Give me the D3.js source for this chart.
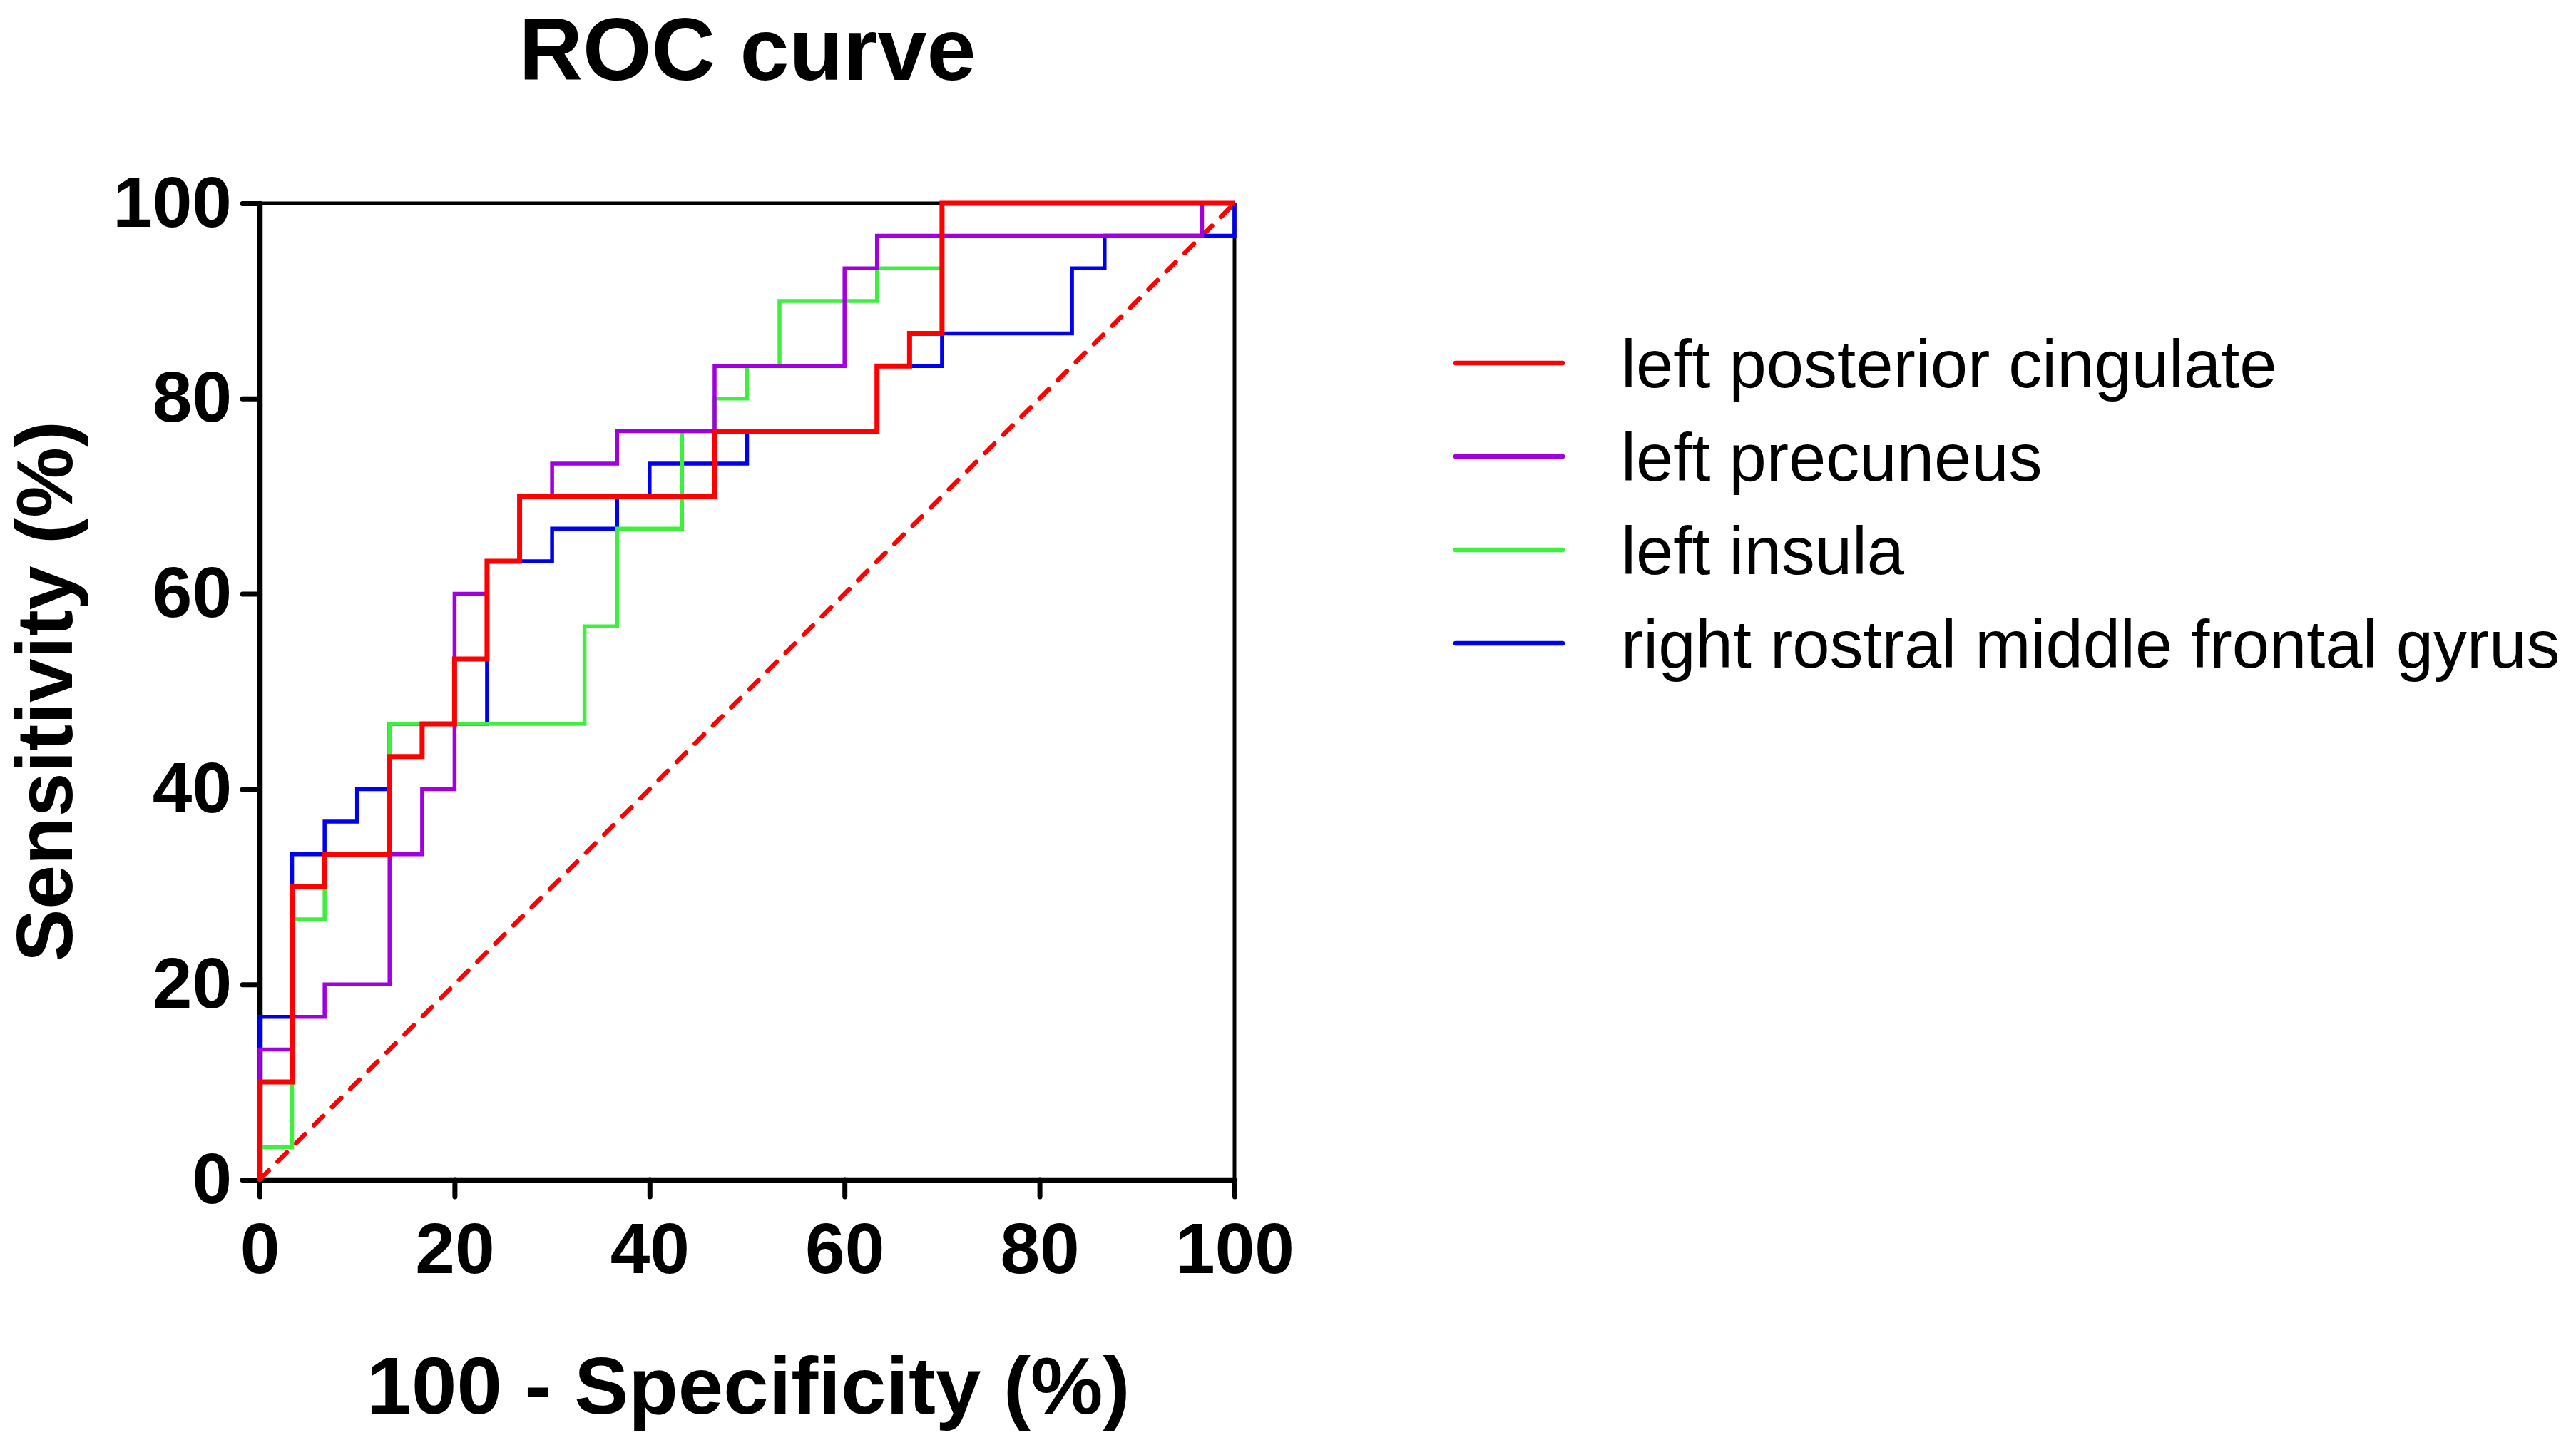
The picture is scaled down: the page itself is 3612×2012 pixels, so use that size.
<!DOCTYPE html>
<html>
<head>
<meta charset="utf-8">
<script src="https://cdn.jsdelivr.net/npm/d3@7"></script>
<style>
  body { margin: 0; background: #fff; }
  text { font-family: "Liberation Sans", Arial, sans-serif; fill: #000; }
</style>
</head>
<body>
<script>
const width = 3612;
const height = 2012;
const margin = { top: 285, right: 1881, bottom: 358, left: 364 };

const chartWidth = width - margin.left - margin.right;
const chartHeight = height - margin.top - margin.bottom;

// legend order
const seriesNames = [
  "left posterior cingulate",
  "left precuneus",
  "left insula",
  "right rostral middle frontal gyrus"
];

// ROC points: 100 - specificity (%) and sensitivity (%)
const cingulateX = [0, 0, 3.33, 6.67, 13.33, 16.67, 20, 23.33, 26.67, 46.67, 63.33, 66.67, 70, 100];
const cingulateY = [0, 10, 30, 33.33, 43.33, 46.67, 53.33, 63.33, 70, 76.67, 83.33, 86.67, 100, 100];

const precuneusX = [0, 0, 3.33, 6.67, 13.33, 16.67, 20, 23.33, 26.67, 30, 36.67, 46.67, 60, 63.33, 96.67, 100];
const precuneusY = [0, 13.33, 16.67, 20, 33.33, 40, 60, 63.33, 70, 73.33, 76.67, 83.33, 93.33, 96.67, 100, 100];

const insulaX = [0, 0, 3.33, 6.67, 13.33, 33.33, 36.67, 43.33, 46.67, 50, 53.33, 63.33, 70, 100];
const insulaY = [0, 3.33, 26.67, 33.33, 46.67, 56.67, 66.67, 76.67, 80, 83.33, 90, 93.33, 100, 100];

const frontalX = [0, 0, 3.33, 6.67, 10, 13.33, 23.33, 30, 36.67, 40, 50, 63.33, 70, 83.33, 86.67, 100];
const frontalY = [0, 16.67, 33.33, 36.67, 40, 46.67, 63.33, 66.67, 70, 73.33, 76.67, 83.33, 86.67, 93.33, 96.67, 100];

const tickValues = [0, 20, 40, 60, 80, 100];

const series = [
  { name: seriesNames[0], x: cingulateX, y: cingulateY },
  { name: seriesNames[1], x: precuneusX, y: precuneusY },
  { name: seriesNames[2], x: insulaX, y: insulaY },
  { name: seriesNames[3], x: frontalX, y: frontalY }
];

const color = d3.scaleOrdinal()
  .domain(seriesNames)
  .range(["#ff0000", "#a000e0", "#3ef03e", "#0000f0"]);

const svg = d3.select("body")
  .append("svg")
  .attr("width", width)
  .attr("height", height);

const g = svg.append("g")
  .attr("transform", `translate(${margin.left}, ${margin.top})`);

const x = d3.scaleLinear()
  .domain([0, 100])
  .range([0, chartWidth]);

const y = d3.scaleLinear()
  .domain([0, 100])
  .range([chartHeight, 0]);

// top and right frame
g.append("line")
  .attr("x1", x(0)).attr("x2", x(100))
  .attr("y1", y(100)).attr("y2", y(100))
  .attr("stroke", "#000").attr("stroke-width", 5);
g.append("line")
  .attr("x1", x(100)).attr("x2", x(100))
  .attr("y1", y(0)).attr("y2", y(100))
  .attr("stroke", "#000").attr("stroke-width", 5);

const xAxis = d3.axisBottom(x)
  .tickValues(tickValues)
  .tickSize(24)
  .tickSizeOuter(0)
  .tickPadding(36);

const yAxis = d3.axisLeft(y)
  .tickValues(tickValues)
  .tickSize(24)
  .tickSizeOuter(0)
  .tickPadding(15);

const gx = g.append("g")
  .attr("transform", `translate(0, ${chartHeight})`)
  .call(xAxis);

const gy = g.append("g")
  .call(yAxis);

[gx, gy].forEach(a => {
  a.select(".domain").attr("stroke", "#000").attr("stroke-width", 7.5).attr("stroke-linecap", "round");
  a.selectAll(".tick line").attr("stroke", "#000").attr("stroke-width", 7).attr("stroke-linecap", "round");
  a.selectAll(".tick text")
    .attr("font-size", 100)
    .attr("font-weight", "bold")
    .attr("font-family", "'Liberation Sans', Arial, sans-serif");
});

// chance line
g.append("line")
  .attr("x1", x(0)).attr("y1", y(0))
  .attr("x2", x(100)).attr("y2", y(100))
  .attr("stroke", "#ff0000")
  .attr("stroke-width", 6.5)
  .attr("stroke-dasharray", "18,18")
  .attr("stroke-linecap", "round");

const line = d3.line()
  .x(d => x(d[0]))
  .y(d => y(d[1]))
  .curve(d3.curveStepAfter);

// draw last legend entry first so red ends on top
series.slice().reverse().forEach(s => {
  g.append("path")
    .datum(s.x.map((v, i) => [v, s.y[i]]))
    .attr("fill", "none")
    .attr("stroke", color(s.name))
    .attr("stroke-width", s.name === seriesNames[0] ? 7 : 5.5)
    .attr("d", line);
});

// title
svg.append("text")
  .attr("x", 1048)
  .attr("y", 112)
  .attr("text-anchor", "middle")
  .attr("font-size", 124)
  .attr("font-weight", "bold")
  .text("ROC curve");

// axis titles
svg.append("text")
  .attr("x", 1049)
  .attr("y", 1982)
  .attr("text-anchor", "middle")
  .attr("font-size", 114)
  .attr("font-weight", "bold")
  .text("100 - Specificity (%)");

svg.append("text")
  .attr("transform", `translate(101, ${margin.top + chartHeight / 2}) rotate(-90)`)
  .attr("text-anchor", "middle")
  .attr("font-size", 111)
  .attr("font-weight", "bold")
  .text("Sensitivity (%)");

// legend
const legendY = d3.scalePoint()
  .domain(seriesNames)
  .range([509, 902]);

const legend = svg.append("g");

seriesNames.forEach(name => {
  legend.append("line")
    .attr("x1", 2041).attr("x2", 2191)
    .attr("y1", legendY(name)).attr("y2", legendY(name))
    .attr("stroke", color(name))
    .attr("stroke-width", 6.5)
    .attr("stroke-linecap", "round");
  legend.append("text")
    .attr("x", 2273)
    .attr("y", legendY(name) + 34)
    .attr("font-size", 94)
    .text(name);
});
</script>
</body>
</html>
